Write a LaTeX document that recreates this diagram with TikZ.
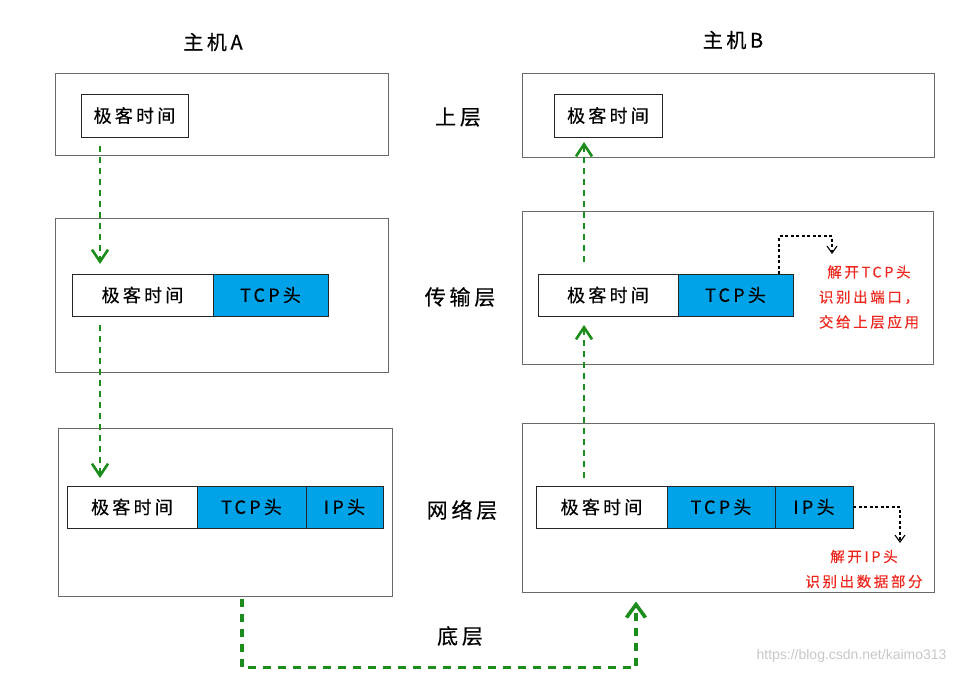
\documentclass[tikz,border=0pt]{standalone}
\usepackage{fontspec}
\setmainfont{Noto Sans CJK SC}[LetterSpace=18, FakeBold=0.4]
\newfontfamily\marksans{Liberation Sans}
\usepackage{tikz}
\usetikzlibrary{arrows.meta, positioning}
\definecolor{green1}{RGB}{28,140,28}
\definecolor{blue1}{RGB}{0,162,232}
\definecolor{red1}{RGB}{236,40,30}
\definecolor{frame1}{RGB}{105,105,105}

\begin{document}
\begin{tikzpicture}[x=1pt, y=-1pt,
    hostbox/.style={draw=frame1, line width=1pt, inner sep=0pt},
    payload/.style={draw=black!85, fill=white, line width=0.8pt, minimum height=42pt, inner sep=0pt, outer sep=0pt, font=\fontsize{18}{20}\selectfont},
    header/.style={payload, fill=blue1},
    layername/.style={font=\fontsize{21}{24}\selectfont},
    hostname/.style={font=\fontsize{20}{24}\selectfont},
    note/.style={text=red1, align=center, font=\fontsize{14.5}{25}\selectfont},
    flow/.style={draw=green1, line width=2.6pt, dash pattern=on 6pt off 5pt, -{Straight Barb[length=12pt, width=16pt]}},
    wire/.style={draw=green1, line width=3.6pt, dash pattern=on 8pt off 7pt, -{Straight Barb[length=13pt, width=19pt]}},
    unpack/.style={draw=black, line width=1.1pt, dash pattern=on 3pt off 2.5pt, -{Straight Barb[length=7pt, width=10pt]}}
]
        \useasboundingbox (0,0) rectangle (959,674);

        % host A
        \node[hostname, name=titleA] at (213,42) {主机A};
        \node[hostbox, minimum width=333pt, minimum height=82pt, name=AupBox] at (221.5,115) {};
        \node[payload, minimum width=107pt, minimum height=43pt, name=Aup] at (134.5,115.5) {极客时间};

        \node[hostbox, minimum width=333pt, minimum height=154pt, name=AtpBox] at (221.5,295) {};
        \node[payload, minimum width=141pt, name=Atp1] at (142.5,295) {极客时间};
        \node[header, minimum width=115pt, right=0pt of Atp1, name=Atp2] {TCP头};

        \node[hostbox, minimum width=334pt, minimum height=168pt, name=AnetBox] at (225,512) {};
        \node[payload, minimum width=130pt, name=Anet1] at (132,507) {极客时间};
        \node[header, minimum width=109pt, right=0pt of Anet1, name=Anet2] {TCP头};
        \node[header, minimum width=77pt, right=0pt of Anet2, name=Anet3] {IP头};

        % host B
        \node[hostname, name=titleB] at (733,40) {主机B};
        \node[hostbox, minimum width=412pt, minimum height=84pt, name=BupBox] at (728,116) {};
        \node[payload, minimum width=108pt, minimum height=43pt, name=Bup] at (608,115.5) {极客时间};

        \node[hostbox, minimum width=411pt, minimum height=153pt, name=BtpBox] at (727.5,287.5) {};
        \node[payload, minimum width=140pt, name=Btp1] at (608,295) {极客时间};
        \node[header, minimum width=115pt, right=0pt of Btp1, name=Btp2] {TCP头};
        \node[note, name=noteTCP] at (869,297) {解开TCP头\\识别出端口，\\交给上层应用};

        \node[hostbox, minimum width=412pt, minimum height=169pt, name=BnetBox] at (728,507.5) {};
        \node[payload, minimum width=131pt, name=Bnet1] at (601.5,507) {极客时间};
        \node[header, minimum width=108pt, right=0pt of Bnet1, name=Bnet2] {TCP头};
        \node[header, minimum width=78pt, right=0pt of Bnet2, name=Bnet3] {IP头};
        \node[note, name=noteIP] at (864,569) {解开IP头\\识别出数据部分};

        % layers
        \node[layername, name=upper] at (458,117) {上层};
        \node[layername, name=transport] at (460,297) {传输层};
        \node[layername, name=network] at (462,510) {网络层};
        \node[layername, name=physical] at (460,636) {底层};

        \node[text=black!22, font=\marksans\fontsize{14}{16}\selectfont, anchor=east, name=mark] at (950,656) {https://blog.csdn.net/kaimo313};

        % sending side
        \draw[flow] ([xshift=19pt, yshift=-9pt]Aup.south west) -- ([xshift=28pt, yshift=10pt]Atp1.north west);
        \draw[flow] ([xshift=28pt, yshift=-9pt]Atp1.south west) -- ([xshift=33pt, yshift=8pt]Anet1.north west);

        % wire
        \draw[wire] ([xshift=17pt, yshift=-2pt]AnetBox.south) -- ++(0,69) -| ([xshift=-92pt, yshift=-9pt]BnetBox.south);

        % receiving side
        \draw[flow] ([xshift=48pt, yshift=8pt]Bnet1.north west) -- ([xshift=46pt, yshift=-9pt]Btp1.south west);
        \draw[flow] ([xshift=46pt, yshift=12pt]Btp1.north west) -- ([xshift=30pt, yshift=-5pt]Bup.south west);

        \draw[unpack] ([xshift=-14pt]Btp2.north east) -- ++(0,-38) -- ++(53,0) -- ++(0,18);
        \draw[unpack] (Bnet3.east) -- ++(47,0) -- ++(0,36);
\end{tikzpicture}
\end{document}
